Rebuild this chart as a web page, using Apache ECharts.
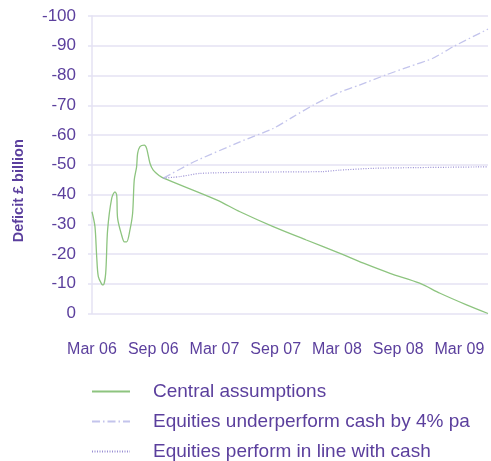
<!DOCTYPE html>
<html>
<head>
<meta charset="utf-8">
<script src="https://cdn.jsdelivr.net/npm/echarts@6/dist/echarts.min.js"></script>
<style>
html,body{margin:0;padding:0;background:#fff;}
#main{width:491px;height:461px;}
</style>
</head>
<body>
<div id="main"></div>
<script>
// months counted from Mar 06
var monthLabels = ['Mar 06', 'Sep 06', 'Mar 07', 'Sep 07', 'Mar 08', 'Sep 08', 'Mar 09'];

var centralMonths = [0, 0.29, 0.46, 0.62, 0.95, 1.1, 1.34, 1.53, 1.93, 2.25, 2.42, 2.51, 2.9, 3.17, 3.4, 3.72, 3.98, 4.14, 4.37, 4.47, 4.7, 5.12, 5.35, 5.68, 6.0, 6.65, 7.0, 12.2, 14.5, 17.75, 21.0, 24.3, 26.6, 29.2, 32.1, 34.1, 36.7, 38.8];
var centralValues = [-34.2, -29.2, -19.1, -12.4, -9.9, -9.6, -13.5, -28.1, -38.7, -40.9, -39.8, -32.0, -26.4, -24.1, -24.1, -28.1, -33.7, -44.9, -49.3, -53.8, -56.1, -56.6, -55.5, -50.5, -48.2, -46.2, -45.5, -38.2, -34.2, -29.2, -24.7, -20.2, -16.9, -13.5, -10.2, -6.8, -2.9, 0];

var underMonths = [7.0, 10.0, 14.5, 17.75, 19.7, 21.7, 24.0, 26.2, 28.8, 31.1, 33.4, 35.4, 38.8];
var underValues = [-45.5, -51.0, -57.7, -62.2, -66.1, -70.1, -74.0, -76.8, -80.2, -83.0, -85.8, -89.7, -95.6];

var cashMonths = [7.0, 8.6, 10.6, 15.5, 22.6, 24.3, 27.5, 30.8, 38.8];
var cashValues = [-45.5, -46.0, -47.1, -47.5, -47.7, -48.2, -48.8, -49.0, -49.3];

function pairs(xs, ys) {
	var out = [];
	for (var i = 0; i < xs.length; i++) {
		out.push([xs[i], ys[i]]);
	}
	return out;
}

var textColor = '#5b3f9d';
var gridColor = '#e4e2f3';
var font = '"Liberation Sans", Arial, sans-serif';

var myChart = echarts.init(document.getElementById('main'));
var option = {
	animation: false,
	grid: {
		left: 92,
		right: 3,
		top: 16,
		bottom: 147.5
	},
	legend: {
		orient: 'vertical',
		left: 91,
		top: 382,
		height: 100,
		padding: 0,
		itemWidth: 38,
		itemHeight: 14,
		itemGap: 11,
		itemStyle: { opacity: 0 },
		textStyle: {
			color: textColor,
			fontSize: 19,
			fontFamily: font,
			padding: [0, 0, 0, 18]
		},
		data: ['Central assumptions', 'Equities underperform cash by 4% pa', 'Equities perform in line with cash']
	},
	xAxis: {
		type: 'value',
		min: 0,
		max: 38.8,
		interval: 6,
		axisLine: { show: false },
		axisTick: { show: false },
		splitLine: { show: false },
		axisLabel: {
			color: textColor,
			fontSize: 16,
			fontFamily: font,
			margin: 28,
			showMaxLabel: false,
			formatter: function (v) {
				if (v % 6 !== 0) return '';
				return monthLabels[v / 6] || '';
			}
		}
	},
	yAxis: {
		type: 'value',
		inverse: true,
		min: -100,
		max: 0,
		interval: 10,
		name: 'Deficit £ billion',
		nameLocation: 'middle',
		nameRotate: 90,
		nameGap: 66,
		nameTextStyle: {
			color: textColor,
			fontSize: 14.5,
			fontWeight: 'bold',
			fontFamily: font,
			padding: [0, 52, 0, 0]
		},
		axisLine: { show: true, lineStyle: { color: gridColor, width: 1.5 } },
		axisTick: { show: true, length: 4, lineStyle: { color: gridColor, width: 1.5 } },
		splitLine: { lineStyle: { color: gridColor, width: 1.5 } },
		axisLabel: {
			color: textColor,
			fontSize: 17,
			fontFamily: font,
			margin: 16
		}
	},
	series: [
		{
			name: 'Central assumptions',
			type: 'line',
			symbol: 'none',
			smooth: 0.3,
			data: pairs(centralMonths, centralValues),
			lineStyle: { color: '#8dc47f', width: 1.3 },
			itemStyle: { color: '#8dc47f' },
			z: 3
		},
		{
			name: 'Equities underperform cash by 4% pa',
			type: 'line',
			symbol: 'none',
			smooth: 0.2,
			data: pairs(underMonths, underValues),
			lineStyle: { color: '#c3c4ec', width: 1.3, type: [8, 3, 1.5, 3] },
			itemStyle: { color: '#c3c4ec' }
		},
		{
			name: 'Equities perform in line with cash',
			type: 'line',
			symbol: 'none',
			smooth: 0.2,
			data: pairs(cashMonths, cashValues),
			lineStyle: { color: '#9a8fd4', width: 1.2, type: [1, 1.5] },
			itemStyle: { color: '#9a8fd4' }
		}
	]
};
myChart.setOption(option);
</script>
</body>
</html>
